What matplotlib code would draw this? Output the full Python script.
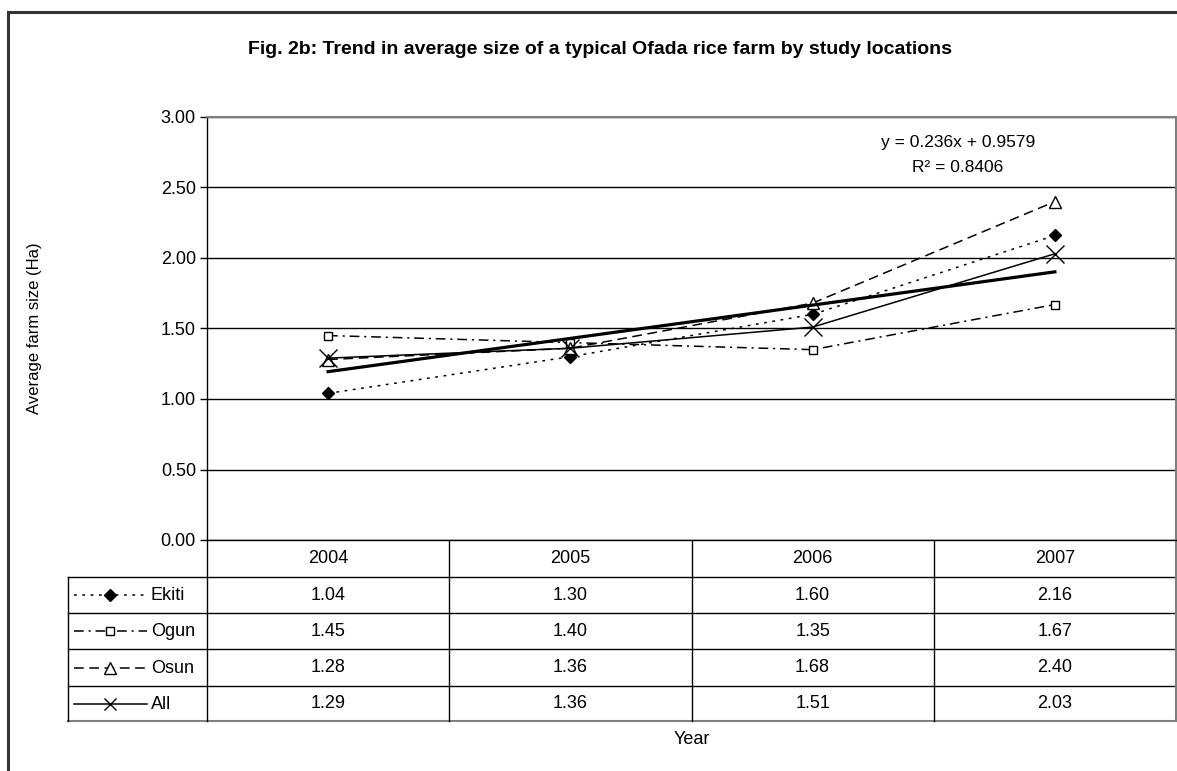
import numpy as np
import matplotlib
matplotlib.use("Agg")
import matplotlib.pyplot as plt
from matplotlib import transforms
from matplotlib.lines import Line2D

plt.rcParams['font.family'] = ['Liberation Sans', 'DejaVu Sans']
plt.rcParams['lines.scale_dashes'] = False

# data
years = ["2004", "2005", "2006", "2007"]
ekiti = [1.04, 1.30, 1.60, 2.16]
ogun = [1.45, 1.40, 1.35, 1.67]
osun = [1.28, 1.36, 1.68, 2.40]
all_loc = [1.29, 1.36, 1.51, 2.03]
series_names = ["Ekiti", "Ogun", "Osun", "All"]
trend_slope = 0.236
trend_intercept = 0.9579
trend_r2 = 0.8406

W, H = 1177, 771
fig = plt.figure(figsize=(W / 100, H / 100), dpi=100)

# overlay axes in pixel coords for frame + table
ov = fig.add_axes([0, 0, 1, 1])
ov.set_xlim(0, W)
ov.set_ylim(H, 0)
ov.axis("off")

# main plot area
px_l, px_r, px_t, px_b = 207, 1176, 117, 540
ax = fig.add_axes([px_l / W, 1 - px_b / H, (px_r - px_l) / W, (px_b - px_t) / H])
x = np.arange(len(years))
ax.set_xlim(-0.5, len(years) - 0.5)
ax.set_ylim(0, 3)
ax.set_yticks(np.arange(0, 3.01, 0.5))
ax.set_yticklabels([f"{v:.2f}" for v in np.arange(0, 3.01, 0.5)], fontsize=13)
ax.tick_params(axis="y", length=5, width=1, pad=3)
ax.set_xticks([])
ax.yaxis.grid(True, color="black", lw=1)
ax.set_axisbelow(True)
for s in ["top", "right"]:
    ax.spines[s].set_color("#808080")
    ax.spines[s].set_linewidth(1.5)
ax.spines["left"].set_linewidth(1)
ax.spines["bottom"].set_linewidth(1)

styles = [
    dict(ls=(0, (2, 4)), marker="D", ms=6.5, mfc="black", mec="black"),
    dict(ls=(0, (7, 3.5, 1.5, 3.5)), marker="s", ms=6, mfc="white", mec="black", mew=1),
    dict(ls=(0, (7, 4)), marker="^", ms=8, mfc="white", mec="black", mew=1),
    dict(ls="-", marker="x", ms=13, mfc="black", mec="black", mew=1),
]
data = [ekiti, ogun, osun, all_loc]
for vals, st in zip(data, styles):
    ax.plot(x, vals, color="black", lw=1.1, **st)

# linear trend of "All"
xt = x + 1
ax.plot(x, trend_slope * xt + trend_intercept, color="black", lw=2.3, zorder=5)
ax.text(2.6, 2.82, f"y = {trend_slope}x + {trend_intercept}", ha="center", va="center", fontsize=12.5)
ax.text(2.6, 2.64, f"R\u00b2 = {trend_r2}", ha="center", va="center", fontsize=12.5)

ax.set_ylabel("Average farm size (Ha)", fontsize=12)
ax.yaxis.set_label_coords((42 - px_l) / (px_r - px_l), 0.5)

# figure frame (top and left only visible)
ov.plot([8, W], [12, 12], color="#333333", lw=2.2)
ov.plot([8, 8], [12, H], color="#333333", lw=2.2)

fig.text(600 / W, 1 - 50 / H, "Fig. 2b: Trend in average size of a typical Ofada rice farm by study locations",
         ha="center", va="center", fontsize=14, fontweight="bold")

# data table under the plot
tr = transforms.blended_transform_factory(ax.transData, ov.transData)
rows = [540, 577, 613, 649, 686, 721]
leg_l = 68
for yy in rows[1:-1]:
    ov.plot([leg_l, px_r], [yy, yy], color="black", lw=1)
ov.plot([leg_l, px_r], [rows[-1], rows[-1]], color="#808080", lw=1.5)
ov.plot([leg_l, leg_l], [rows[1], rows[-1]], color="black", lw=1)
ov.plot([px_l, px_l], [rows[0], rows[-1]], color="black", lw=1)
ov.plot([px_r, px_r], [rows[0], rows[-1]], color="#808080", lw=1.5)
for xd in x[:-1] + 0.5:
    ov.plot([xd, xd], [rows[0], rows[-1]], color="black", lw=1, transform=tr)

for i, yr in enumerate(years):
    ov.text(i, (rows[0] + rows[1]) / 2, yr, ha="center", va="center", fontsize=13, transform=tr)
for r, (name, vals, st) in enumerate(zip(series_names, data, styles)):
    yc = (rows[r + 1] + rows[r + 2]) / 2
    for i, v in enumerate(vals):
        ov.text(i, yc, f"{v:.2f}", ha="center", va="center", fontsize=13, transform=tr)
    ov.add_line(Line2D([74, 147], [yc, yc], color="black", lw=1.1, ls=st["ls"]))
    mst = {k: v for k, v in st.items() if k != "ls"}
    if mst["marker"] == "x":
        mst["ms"] = 9
    ov.add_line(Line2D([110], [yc], color="black", ls="none", **mst))
    ov.text(151, yc + 1, name, ha="left", va="center", fontsize=13)

fig.text(692 / W, 1 - 739 / H, "Year", ha="center", va="center", fontsize=13)

fig.savefig("out.png", dpi=100)
